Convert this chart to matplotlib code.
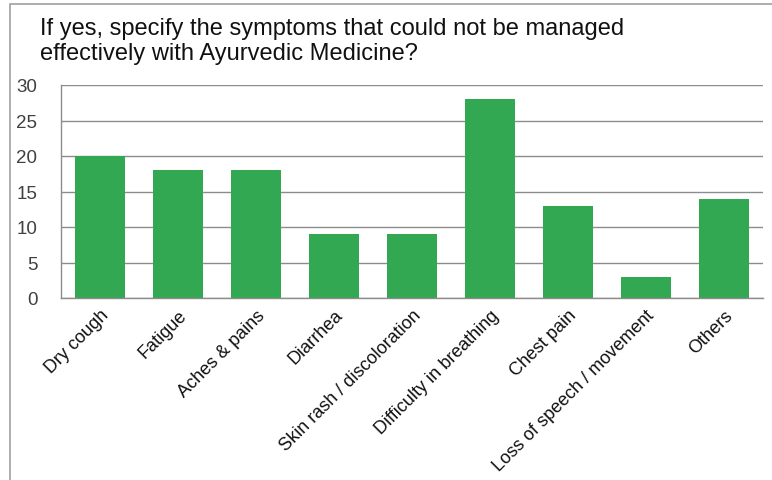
import matplotlib
matplotlib.use("Agg")
from matplotlib import pyplot as plt
from matplotlib.patches import Rectangle

# data
symptoms = ["Dry cough", "Fatigue", "Aches & pains", "Diarrhea",
            "Skin rash / discoloration", "Difficulty in breathing",
            "Chest pain", "Loss of speech / movement", "Others"]
counts = [20, 18, 18, 9, 9, 28, 13, 3, 14]
yticks = [0, 5, 10, 15, 20, 25, 30]

plt.rcParams['font.family'] = ['Liberation Sans', 'DejaVu Sans']

fig = plt.figure(figsize=(7.72, 4.81), dpi=100)
# outer frame of the chart (only left/top visible in the reference)
fig.patches.append(Rectangle((10/772, -0.1), 1.2, 1 - 5/481 + 0.1,
                             transform=fig.transFigure, fill=False,
                             edgecolor='#a0a0a0', linewidth=1.2))

ax = fig.add_axes([61/772, 1 - 299/481, (763 - 61)/772, (299 - 86)/481])
ax.bar(range(len(counts)), counts, width=0.63, color='#33a852', zorder=2)

ax.set_ylim(0, 30)
ax.set_xlim(-0.5, len(counts) - 0.5)
ax.set_yticks(yticks)
ax.grid(axis='y', color='#8c8c8c', linewidth=1, zorder=0)
ax.set_axisbelow(True)
for s in ['top', 'right']:
    ax.spines[s].set_visible(False)
for s in ['left', 'bottom']:
    ax.spines[s].set_color('#8c8c8c')
    ax.spines[s].set_linewidth(1)

ax.set_xticks(range(len(symptoms)))
ax.set_xticklabels(symptoms, rotation=45, ha='right', rotation_mode='anchor')
ax.tick_params(axis='x', length=0, pad=6, labelsize=13)
ax.tick_params(axis='y', length=0, pad=17, labelsize=13.5, colors='#404040')
for lbl in ax.get_xticklabels():
    lbl.set_color('#111111')

fig.text(40/772, 1 - 18/481,
         "If yes, specify the symptoms that could not be managed\neffectively with Ayurvedic Medicine?",
         ha='left', va='top', fontsize=17, color='#111111', linespacing=1.2)

fig.savefig("out.png", dpi=100)
